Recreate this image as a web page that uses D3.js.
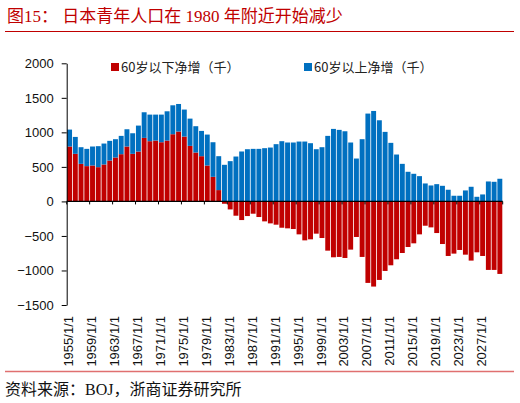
<!DOCTYPE html>
<html>
<head>
<meta charset="utf-8">
<script src="https://cdn.jsdelivr.net/npm/d3@7"></script>
<style>
  body { margin: 0; background: #fff; }
  text { font-family: "Liberation Sans", Arial, sans-serif; }
</style>
</head>
<body>
<script>
var w = 520;
var h = 403;

// years 1955 .. 2030
var years = [1955, 1956, 1957, 1958, 1959, 1960, 1961, 1962, 1963, 1964,
             1965, 1966, 1967, 1968, 1969, 1970, 1971, 1972, 1973, 1974,
             1975, 1976, 1977, 1978, 1979, 1980, 1981, 1982, 1983, 1984,
             1985, 1986, 1987, 1988, 1989, 1990, 1991, 1992, 1993, 1994,
             1995, 1996, 1997, 1998, 1999, 2000, 2001, 2002, 2003, 2004,
             2005, 2006, 2007, 2008, 2009, 2010, 2011, 2012, 2013, 2014,
             2015, 2016, 2017, 2018, 2019, 2020, 2021, 2022, 2023, 2024,
             2025, 2026, 2027, 2028, 2029, 2030];

// 60岁以下净增（千）
var under60 = [795, 689, 544, 511, 520, 496, 535, 592, 636, 684,
               795, 689, 722, 920, 872, 881, 857, 881, 973, 1012,
               939, 804, 708, 655, 520, 356, 164, -34, -116, -207,
               -270, -212, -178, -226, -289, -318, -337, -381, -390, -400,
               -477, -564, -549, -467, -530, -713, -809, -804, -819, -698,
               -515, -804, -1180, -1233, -1137, -1007, -925, -838, -747, -660,
               -607, -477, -352, -376, -458, -617, -790, -756, -703, -771,
               -857, -737, -790, -992, -992, -1050];

// 60岁以上净增（千）
var over60 = [245, 245, 241, 250, 275, 304, 303, 285, 265, 265,
              250, 298, 376, 371, 385, 376, 400, 424, 419, 399,
              391, 395, 381, 366, 448, 501, 491, 530, 583, 650,
              723, 756, 761, 761, 771, 780, 829, 872, 853, 853,
              867, 867, 843, 756, 785, 949, 1050, 1036, 1016, 853,
              621, 901, 1272, 1310, 1175, 1007, 848, 679, 544, 429,
              400, 366, 260, 231, 250, 226, 169, 82, 82, 159,
              212, 67, 101, 289, 284, 328];

var yTicks = [-1500, -1000, -500, 0, 500, 1000, 1500, 2000];
var seriesNames = ["60岁以下净增（千）", "60岁以上净增（千）"];
var colors = ["#C00000", "#0070C0"];

var svg = d3.select("body").append("svg")
    .attr("width", w)
    .attr("height", h);

// title + rules
svg.append("text")
    .attr("x", 7).attr("y", 22)
    .attr("fill", "#C00000")
    .style("font-family", "'Liberation Serif', 'Noto Sans CJK SC', serif")
    .style("font-size", "17px")
    .text("图15：   日本青年人口在 1980 年附近开始减少");
svg.append("line")
    .attr("x1", 5).attr("x2", 514).attr("y1", 31.5).attr("y2", 31.5)
    .attr("stroke", "#C00000").attr("stroke-width", 1.2);
svg.append("line")
    .attr("x1", 5).attr("x2", 514).attr("y1", 371.5).attr("y2", 371.5)
    .attr("stroke", "#E07070").attr("stroke-width", 1.5);
svg.append("text")
    .attr("x", 5).attr("y", 395)
    .attr("fill", "#111")
    .style("font-family", "'Liberation Serif', 'Noto Sans CJK SC', serif")
    .style("font-size", "16px")
    .text("资料来源：BOJ，浙商证券研究所");

var table = years.map(function(y, i) {
    return { year: y, cat: y + "/1/1", under: under60[i], over: over60[i] };
});

var x = d3.scaleBand()
    .domain(table.map(function(d) { return d.cat; }))
    .range([66.7, 502.7])
    .paddingInner(0.14)
    .paddingOuter(0.07);

var y = d3.scaleLinear()
    .domain([-1500, 2000])
    .range([305, 63.3]);

var stack = d3.stack()
    .keys(["under", "over"])
    .offset(d3.stackOffsetDiverging);
var layers = stack(table);

var g = svg.append("g");
g.selectAll(".layer")
    .data(layers)
    .enter().append("g")
    .attr("fill", function(d, i) { return colors[i]; })
    .selectAll("rect")
    .data(function(d) { return d; })
    .enter().append("rect")
    .attr("x", function(d) { return x(d.data.cat); })
    .attr("width", x.bandwidth())
    .attr("y", function(d) { return y(Math.max(d[0], d[1])); })
    .attr("height", function(d) { return Math.abs(y(d[0]) - y(d[1])); });

// y axis
var yAxis = svg.append("g")
    .attr("transform", "translate(66.7,0)")
    .call(d3.axisLeft(y).tickValues(yTicks).tickFormat(d3.format("d"))
        .tickSize(5).tickPadding(8).tickSizeOuter(0));
yAxis.select(".domain").attr("stroke", "#000");
yAxis.selectAll(".tick line").attr("stroke", "#000");
yAxis.selectAll("text")
    .style("font-size", "13px")
    .style("font-family", "'Liberation Sans', Arial, sans-serif")
    .attr("fill", "#111");

// x axis on zero line
var x0 = x.range()[0];
svg.append("line")
    .attr("x1", x0).attr("x2", x.range()[1])
    .attr("y1", y(0)).attr("y2", y(0))
    .attr("stroke", "#000").attr("stroke-width", 1.2);
var tickIdx = d3.range(0, years.length + 1, 4);
svg.selectAll(".xtick")
    .data(tickIdx)
    .enter().append("line")
    .attr("x1", function(i) { return x0 + (x.range()[1] - x0) * i / years.length; })
    .attr("x2", function(i) { return x0 + (x.range()[1] - x0) * i / years.length; })
    .attr("y1", y(0)).attr("y2", y(0) + 3)
    .attr("stroke", "#000");

svg.selectAll(".xlabel")
    .data(table.filter(function(d, i) { return i % 4 === 0; }))
    .enter().append("text")
    .attr("transform", function(d) {
        return "translate(" + (x(d.cat) + x.bandwidth() / 2 - 1) + ",316) rotate(-90)";
    })
    .attr("dy", "0.35em")
    .attr("text-anchor", "end")
    .attr("fill", "#111")
    .style("font-size", "13px")
    .text(function(d) { return d.cat; });

// legend
var legendX = [111, 304];
var legend = svg.selectAll(".legend")
    .data(seriesNames)
    .enter().append("g")
    .attr("transform", function(d, i) { return "translate(" + legendX[i] + ",63)"; });
legend.append("rect")
    .attr("width", 8).attr("height", 8)
    .attr("fill", function(d, i) { return colors[i]; });
legend.append("text")
    .attr("x", 10).attr("y", 4)
    .attr("dy", "0.35em")
    .attr("fill", "#222")
    .style("font-family", "'Noto Sans CJK SC', sans-serif")
    .style("font-size", "13px")
    .text(function(d) { return d; });
</script>
</body>
</html>
